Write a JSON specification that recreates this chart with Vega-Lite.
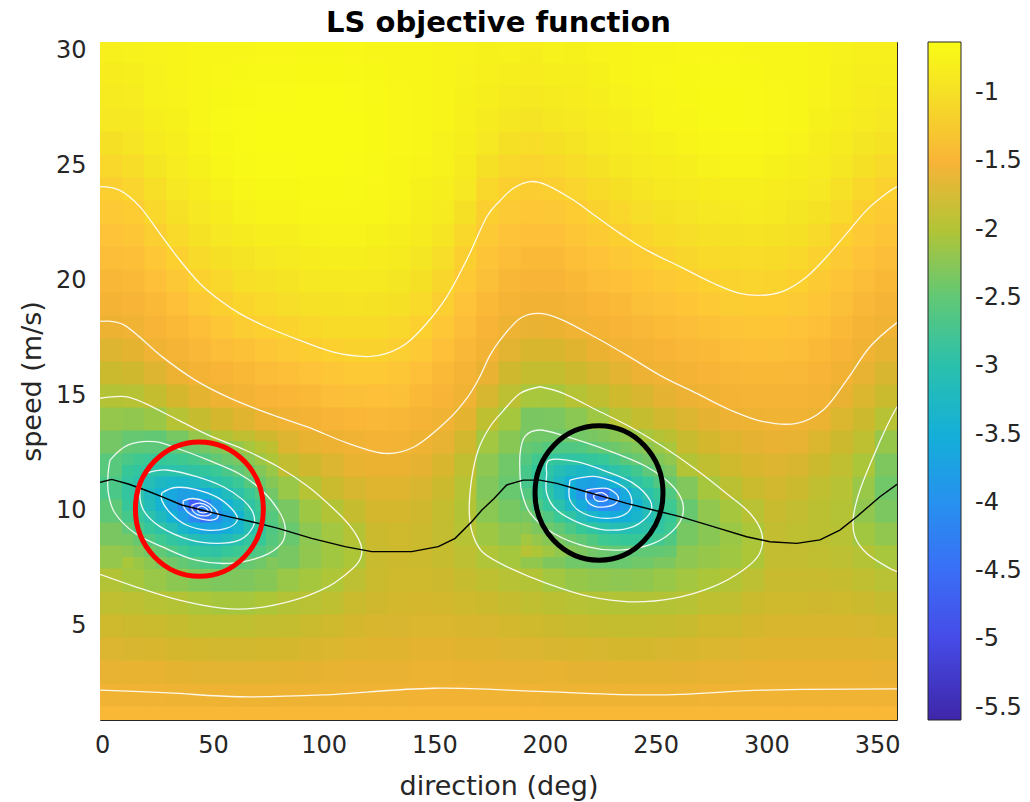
{
"$schema":"https://vega.github.io/schema/vega-lite/v6.json",
"width":797,"height":678,
"autosize":{"type":"none"},
"padding":{"left":100,"top":42,"right":133,"bottom":82},
"background":"white",
"config":{"font":"DejaVu Sans","view":{"stroke":"#262626","strokeWidth":1}},
"title":{"text":"LS objective function","fontSize":29,"fontWeight":"bold","color":"#000000","anchor":"middle","offset":10,"dy":33,"baseline":"alphabetic","font":"DejaVu Sans"},
"resolve":{"axis":{"x":"independent","y":"independent"}},
"layer":[
{
"data":{"values":[
{"d":-1,"s":0.5,"v":-1.45},{"d":-1,"s":1.5,"v":-1.58},{"d":-1,"s":2.5,"v":-1.67},{"d":-1,"s":3.5,"v":-1.75},{"d":-1,"s":4.5,"v":-1.84},{"d":-1,"s":5.5,"v":-1.92},{"d":-1,"s":6.5,"v":-2.0},{"d":-1,"s":7.5,"v":-2.18},{"d":-1,"s":8.5,"v":-2.34},{"d":-1,"s":9.5,"v":-2.51},{"d":-1,"s":10.5,"v":-2.63},{"d":-1,"s":11.5,"v":-2.55},{"d":-1,"s":12.5,"v":-2.37},{"d":-1,"s":13.5,"v":-2.18},{"d":-1,"s":14.5,"v":-1.99},{"d":-1,"s":15.5,"v":-1.86},{"d":-1,"s":16.5,"v":-1.74},{"d":-1,"s":17.5,"v":-1.62},{"d":-1,"s":18.5,"v":-1.54},{"d":-1,"s":19.5,"v":-1.47},{"d":-1,"s":20.5,"v":-1.4},{"d":-1,"s":21.5,"v":-1.33},{"d":-1,"s":22.5,"v":-1.27},{"d":-1,"s":23.5,"v":-1.2},{"d":-1,"s":24.5,"v":-1.1},{"d":-1,"s":25.5,"v":-1.0},{"d":-1,"s":26.5,"v":-0.9},{"d":-1,"s":27.5,"v":-0.86},{"d":-1,"s":28.5,"v":-0.82},{"d":-1,"s":29.5,"v":-0.78},
{"d":9,"s":0.5,"v":-1.45},{"d":9,"s":1.5,"v":-1.59},{"d":9,"s":2.5,"v":-1.68},{"d":9,"s":3.5,"v":-1.77},{"d":9,"s":4.5,"v":-1.86},{"d":9,"s":5.5,"v":-1.94},{"d":9,"s":6.5,"v":-2.07},{"d":9,"s":7.5,"v":-2.29},{"d":9,"s":8.5,"v":-2.5},{"d":9,"s":9.5,"v":-2.75},{"d":9,"s":10.5,"v":-2.9},{"d":9,"s":11.5,"v":-2.75},{"d":9,"s":12.5,"v":-2.46},{"d":9,"s":13.5,"v":-2.2},{"d":9,"s":14.5,"v":-1.97},{"d":9,"s":15.5,"v":-1.83},{"d":9,"s":16.5,"v":-1.7},{"d":9,"s":17.5,"v":-1.58},{"d":9,"s":18.5,"v":-1.51},{"d":9,"s":19.5,"v":-1.44},{"d":9,"s":20.5,"v":-1.37},{"d":9,"s":21.5,"v":-1.3},{"d":9,"s":22.5,"v":-1.23},{"d":9,"s":23.5,"v":-1.14},{"d":9,"s":24.5,"v":-1.04},{"d":9,"s":25.5,"v":-0.94},{"d":9,"s":26.5,"v":-0.88},{"d":9,"s":27.5,"v":-0.84},{"d":9,"s":28.5,"v":-0.8},{"d":9,"s":29.5,"v":-0.77},
{"d":19,"s":0.5,"v":-1.45},{"d":19,"s":1.5,"v":-1.59},{"d":19,"s":2.5,"v":-1.68},{"d":19,"s":3.5,"v":-1.78},{"d":19,"s":4.5,"v":-1.87},{"d":19,"s":5.5,"v":-1.97},{"d":19,"s":6.5,"v":-2.15},{"d":19,"s":7.5,"v":-2.38},{"d":19,"s":8.5,"v":-2.79},{"d":19,"s":9.5,"v":-3.2},{"d":19,"s":10.5,"v":-3.35},{"d":19,"s":11.5,"v":-2.88},{"d":19,"s":12.5,"v":-2.48},{"d":19,"s":13.5,"v":-2.14},{"d":19,"s":14.5,"v":-1.9},{"d":19,"s":15.5,"v":-1.74},{"d":19,"s":16.5,"v":-1.59},{"d":19,"s":17.5,"v":-1.51},{"d":19,"s":18.5,"v":-1.44},{"d":19,"s":19.5,"v":-1.36},{"d":19,"s":20.5,"v":-1.29},{"d":19,"s":21.5,"v":-1.21},{"d":19,"s":22.5,"v":-1.11},{"d":19,"s":23.5,"v":-1.01},{"d":19,"s":24.5,"v":-0.92},{"d":19,"s":25.5,"v":-0.85},{"d":19,"s":26.5,"v":-0.8},{"d":19,"s":27.5,"v":-0.77},{"d":19,"s":28.5,"v":-0.75},{"d":19,"s":29.5,"v":-0.74},
{"d":29,"s":0.5,"v":-1.45},{"d":29,"s":1.5,"v":-1.6},{"d":29,"s":2.5,"v":-1.7},{"d":29,"s":3.5,"v":-1.8},{"d":29,"s":4.5,"v":-1.89},{"d":29,"s":5.5,"v":-1.99},{"d":29,"s":6.5,"v":-2.23},{"d":29,"s":7.5,"v":-2.48},{"d":29,"s":8.5,"v":-3.13},{"d":29,"s":9.5,"v":-3.81},{"d":29,"s":10.5,"v":-3.43},{"d":29,"s":11.5,"v":-2.83},{"d":29,"s":12.5,"v":-2.36},{"d":29,"s":13.5,"v":-1.98},{"d":29,"s":14.5,"v":-1.8},{"d":29,"s":15.5,"v":-1.62},{"d":29,"s":16.5,"v":-1.53},{"d":29,"s":17.5,"v":-1.44},{"d":29,"s":18.5,"v":-1.36},{"d":29,"s":19.5,"v":-1.28},{"d":29,"s":20.5,"v":-1.19},{"d":29,"s":21.5,"v":-1.09},{"d":29,"s":22.5,"v":-0.99},{"d":29,"s":23.5,"v":-0.9},{"d":29,"s":24.5,"v":-0.84},{"d":29,"s":25.5,"v":-0.79},{"d":29,"s":26.5,"v":-0.76},{"d":29,"s":27.5,"v":-0.74},{"d":29,"s":28.5,"v":-0.73},{"d":29,"s":29.5,"v":-0.72},
{"d":39,"s":0.5,"v":-1.45},{"d":39,"s":1.5,"v":-1.6},{"d":39,"s":2.5,"v":-1.71},{"d":39,"s":3.5,"v":-1.81},{"d":39,"s":4.5,"v":-1.92},{"d":39,"s":5.5,"v":-2.04},{"d":39,"s":6.5,"v":-2.29},{"d":39,"s":7.5,"v":-2.8},{"d":39,"s":8.5,"v":-3.28},{"d":39,"s":9.5,"v":-4.5},{"d":39,"s":10.5,"v":-3.31},{"d":39,"s":11.5,"v":-2.66},{"d":39,"s":12.5,"v":-2.18},{"d":39,"s":13.5,"v":-1.89},{"d":39,"s":14.5,"v":-1.7},{"d":39,"s":15.5,"v":-1.55},{"d":39,"s":16.5,"v":-1.46},{"d":39,"s":17.5,"v":-1.37},{"d":39,"s":18.5,"v":-1.27},{"d":39,"s":19.5,"v":-1.18},{"d":39,"s":20.5,"v":-1.08},{"d":39,"s":21.5,"v":-0.98},{"d":39,"s":22.5,"v":-0.9},{"d":39,"s":23.5,"v":-0.82},{"d":39,"s":24.5,"v":-0.76},{"d":39,"s":25.5,"v":-0.72},{"d":39,"s":26.5,"v":-0.7},{"d":39,"s":27.5,"v":-0.69},{"d":39,"s":28.5,"v":-0.69},{"d":39,"s":29.5,"v":-0.7},
{"d":49,"s":0.5,"v":-1.45},{"d":49,"s":1.5,"v":-1.61},{"d":49,"s":2.5,"v":-1.71},{"d":49,"s":3.5,"v":-1.82},{"d":49,"s":4.5,"v":-1.92},{"d":49,"s":5.5,"v":-2.07},{"d":49,"s":6.5,"v":-2.32},{"d":49,"s":7.5,"v":-2.82},{"d":49,"s":8.5,"v":-3.35},{"d":49,"s":9.5,"v":-3.85},{"d":49,"s":10.5,"v":-3.0},{"d":49,"s":11.5,"v":-2.43},{"d":49,"s":12.5,"v":-2.0},{"d":49,"s":13.5,"v":-1.8},{"d":49,"s":14.5,"v":-1.6},{"d":49,"s":15.5,"v":-1.5},{"d":49,"s":16.5,"v":-1.4},{"d":49,"s":17.5,"v":-1.3},{"d":49,"s":18.5,"v":-1.2},{"d":49,"s":19.5,"v":-1.1},{"d":49,"s":20.5,"v":-1.0},{"d":49,"s":21.5,"v":-0.9},{"d":49,"s":22.5,"v":-0.82},{"d":49,"s":23.5,"v":-0.75},{"d":49,"s":24.5,"v":-0.7},{"d":49,"s":25.5,"v":-0.67},{"d":49,"s":26.5,"v":-0.66},{"d":49,"s":27.5,"v":-0.67},{"d":49,"s":28.5,"v":-0.68},{"d":49,"s":29.5,"v":-0.7},
{"d":59,"s":0.5,"v":-1.45},{"d":59,"s":1.5,"v":-1.61},{"d":59,"s":2.5,"v":-1.71},{"d":59,"s":3.5,"v":-1.82},{"d":59,"s":4.5,"v":-1.92},{"d":59,"s":5.5,"v":-2.07},{"d":59,"s":6.5,"v":-2.31},{"d":59,"s":7.5,"v":-2.57},{"d":59,"s":8.5,"v":-3.05},{"d":59,"s":9.5,"v":-3.25},{"d":59,"s":10.5,"v":-2.68},{"d":59,"s":11.5,"v":-2.25},{"d":59,"s":12.5,"v":-1.92},{"d":59,"s":13.5,"v":-1.72},{"d":59,"s":14.5,"v":-1.56},{"d":59,"s":15.5,"v":-1.45},{"d":59,"s":16.5,"v":-1.35},{"d":59,"s":17.5,"v":-1.24},{"d":59,"s":18.5,"v":-1.13},{"d":59,"s":19.5,"v":-1.02},{"d":59,"s":20.5,"v":-0.95},{"d":59,"s":21.5,"v":-0.85},{"d":59,"s":22.5,"v":-0.77},{"d":59,"s":23.5,"v":-0.7},{"d":59,"s":24.5,"v":-0.66},{"d":59,"s":25.5,"v":-0.64},{"d":59,"s":26.5,"v":-0.64},{"d":59,"s":27.5,"v":-0.65},{"d":59,"s":28.5,"v":-0.67},{"d":59,"s":29.5,"v":-0.69},
{"d":69,"s":0.5,"v":-1.45},{"d":69,"s":1.5,"v":-1.61},{"d":69,"s":2.5,"v":-1.71},{"d":69,"s":3.5,"v":-1.81},{"d":69,"s":4.5,"v":-1.91},{"d":69,"s":5.5,"v":-2.03},{"d":69,"s":6.5,"v":-2.26},{"d":69,"s":7.5,"v":-2.48},{"d":69,"s":8.5,"v":-2.72},{"d":69,"s":9.5,"v":-2.68},{"d":69,"s":10.5,"v":-2.37},{"d":69,"s":11.5,"v":-2.03},{"d":69,"s":12.5,"v":-1.83},{"d":69,"s":13.5,"v":-1.64},{"d":69,"s":14.5,"v":-1.51},{"d":69,"s":15.5,"v":-1.41},{"d":69,"s":16.5,"v":-1.3},{"d":69,"s":17.5,"v":-1.19},{"d":69,"s":18.5,"v":-1.09},{"d":69,"s":19.5,"v":-0.99},{"d":69,"s":20.5,"v":-0.9},{"d":69,"s":21.5,"v":-0.8},{"d":69,"s":22.5,"v":-0.73},{"d":69,"s":23.5,"v":-0.67},{"d":69,"s":24.5,"v":-0.64},{"d":69,"s":25.5,"v":-0.63},{"d":69,"s":26.5,"v":-0.63},{"d":69,"s":27.5,"v":-0.64},{"d":69,"s":28.5,"v":-0.66},{"d":69,"s":29.5,"v":-0.68},
{"d":79,"s":0.5,"v":-1.45},{"d":79,"s":1.5,"v":-1.6},{"d":79,"s":2.5,"v":-1.7},{"d":79,"s":3.5,"v":-1.8},{"d":79,"s":4.5,"v":-1.9},{"d":79,"s":5.5,"v":-1.99},{"d":79,"s":6.5,"v":-2.15},{"d":79,"s":7.5,"v":-2.35},{"d":79,"s":8.5,"v":-2.45},{"d":79,"s":9.5,"v":-2.35},{"d":79,"s":10.5,"v":-2.15},{"d":79,"s":11.5,"v":-1.91},{"d":79,"s":12.5,"v":-1.74},{"d":79,"s":13.5,"v":-1.58},{"d":79,"s":14.5,"v":-1.48},{"d":79,"s":15.5,"v":-1.37},{"d":79,"s":16.5,"v":-1.26},{"d":79,"s":17.5,"v":-1.15},{"d":79,"s":18.5,"v":-1.03},{"d":79,"s":19.5,"v":-0.95},{"d":79,"s":20.5,"v":-0.87},{"d":79,"s":21.5,"v":-0.79},{"d":79,"s":22.5,"v":-0.72},{"d":79,"s":23.5,"v":-0.67},{"d":79,"s":24.5,"v":-0.64},{"d":79,"s":25.5,"v":-0.63},{"d":79,"s":26.5,"v":-0.63},{"d":79,"s":27.5,"v":-0.64},{"d":79,"s":28.5,"v":-0.66},{"d":79,"s":29.5,"v":-0.68},
{"d":89,"s":0.5,"v":-1.45},{"d":89,"s":1.5,"v":-1.6},{"d":89,"s":2.5,"v":-1.69},{"d":89,"s":3.5,"v":-1.78},{"d":89,"s":4.5,"v":-1.87},{"d":89,"s":5.5,"v":-1.96},{"d":89,"s":6.5,"v":-2.08},{"d":89,"s":7.5,"v":-2.2},{"d":89,"s":8.5,"v":-2.22},{"d":89,"s":9.5,"v":-2.12},{"d":89,"s":10.5,"v":-1.98},{"d":89,"s":11.5,"v":-1.83},{"d":89,"s":12.5,"v":-1.68},{"d":89,"s":13.5,"v":-1.55},{"d":89,"s":14.5,"v":-1.44},{"d":89,"s":15.5,"v":-1.33},{"d":89,"s":16.5,"v":-1.22},{"d":89,"s":17.5,"v":-1.1},{"d":89,"s":18.5,"v":-0.99},{"d":89,"s":19.5,"v":-0.9},{"d":89,"s":20.5,"v":-0.82},{"d":89,"s":21.5,"v":-0.75},{"d":89,"s":22.5,"v":-0.69},{"d":89,"s":23.5,"v":-0.65},{"d":89,"s":24.5,"v":-0.63},{"d":89,"s":25.5,"v":-0.62},{"d":89,"s":26.5,"v":-0.62},{"d":89,"s":27.5,"v":-0.63},{"d":89,"s":28.5,"v":-0.65},{"d":89,"s":29.5,"v":-0.67},
{"d":99,"s":0.5,"v":-1.45},{"d":99,"s":1.5,"v":-1.6},{"d":99,"s":2.5,"v":-1.68},{"d":99,"s":3.5,"v":-1.76},{"d":99,"s":4.5,"v":-1.84},{"d":99,"s":5.5,"v":-1.93},{"d":99,"s":6.5,"v":-2.02},{"d":99,"s":7.5,"v":-2.1},{"d":99,"s":8.5,"v":-2.09},{"d":99,"s":9.5,"v":-2.0},{"d":99,"s":10.5,"v":-1.87},{"d":99,"s":11.5,"v":-1.75},{"d":99,"s":12.5,"v":-1.62},{"d":99,"s":13.5,"v":-1.51},{"d":99,"s":14.5,"v":-1.4},{"d":99,"s":15.5,"v":-1.3},{"d":99,"s":16.5,"v":-1.19},{"d":99,"s":17.5,"v":-1.07},{"d":99,"s":18.5,"v":-0.97},{"d":99,"s":19.5,"v":-0.89},{"d":99,"s":20.5,"v":-0.81},{"d":99,"s":21.5,"v":-0.74},{"d":99,"s":22.5,"v":-0.69},{"d":99,"s":23.5,"v":-0.65},{"d":99,"s":24.5,"v":-0.63},{"d":99,"s":25.5,"v":-0.62},{"d":99,"s":26.5,"v":-0.62},{"d":99,"s":27.5,"v":-0.63},{"d":99,"s":28.5,"v":-0.65},{"d":99,"s":29.5,"v":-0.67},
{"d":109,"s":0.5,"v":-1.45},{"d":109,"s":1.5,"v":-1.59},{"d":109,"s":2.5,"v":-1.66},{"d":109,"s":3.5,"v":-1.73},{"d":109,"s":4.5,"v":-1.8},{"d":109,"s":5.5,"v":-1.87},{"d":109,"s":6.5,"v":-1.94},{"d":109,"s":7.5,"v":-2.03},{"d":109,"s":8.5,"v":-1.99},{"d":109,"s":9.5,"v":-1.89},{"d":109,"s":10.5,"v":-1.79},{"d":109,"s":11.5,"v":-1.68},{"d":109,"s":12.5,"v":-1.58},{"d":109,"s":13.5,"v":-1.48},{"d":109,"s":14.5,"v":-1.38},{"d":109,"s":15.5,"v":-1.27},{"d":109,"s":16.5,"v":-1.17},{"d":109,"s":17.5,"v":-1.06},{"d":109,"s":18.5,"v":-0.96},{"d":109,"s":19.5,"v":-0.88},{"d":109,"s":20.5,"v":-0.8},{"d":109,"s":21.5,"v":-0.74},{"d":109,"s":22.5,"v":-0.69},{"d":109,"s":23.5,"v":-0.66},{"d":109,"s":24.5,"v":-0.64},{"d":109,"s":25.5,"v":-0.63},{"d":109,"s":26.5,"v":-0.63},{"d":109,"s":27.5,"v":-0.64},{"d":109,"s":28.5,"v":-0.66},{"d":109,"s":29.5,"v":-0.68},
{"d":119,"s":0.5,"v":-1.45},{"d":119,"s":1.5,"v":-1.59},{"d":119,"s":2.5,"v":-1.66},{"d":119,"s":3.5,"v":-1.72},{"d":119,"s":4.5,"v":-1.78},{"d":119,"s":5.5,"v":-1.83},{"d":119,"s":6.5,"v":-1.87},{"d":119,"s":7.5,"v":-1.88},{"d":119,"s":8.5,"v":-1.86},{"d":119,"s":9.5,"v":-1.8},{"d":119,"s":10.5,"v":-1.73},{"d":119,"s":11.5,"v":-1.65},{"d":119,"s":12.5,"v":-1.55},{"d":119,"s":13.5,"v":-1.46},{"d":119,"s":14.5,"v":-1.36},{"d":119,"s":15.5,"v":-1.27},{"d":119,"s":16.5,"v":-1.17},{"d":119,"s":17.5,"v":-1.06},{"d":119,"s":18.5,"v":-0.97},{"d":119,"s":19.5,"v":-0.89},{"d":119,"s":20.5,"v":-0.82},{"d":119,"s":21.5,"v":-0.76},{"d":119,"s":22.5,"v":-0.71},{"d":119,"s":23.5,"v":-0.68},{"d":119,"s":24.5,"v":-0.66},{"d":119,"s":25.5,"v":-0.65},{"d":119,"s":26.5,"v":-0.65},{"d":119,"s":27.5,"v":-0.66},{"d":119,"s":28.5,"v":-0.67},{"d":119,"s":29.5,"v":-0.69},
{"d":129,"s":0.5,"v":-1.45},{"d":129,"s":1.5,"v":-1.59},{"d":129,"s":2.5,"v":-1.66},{"d":129,"s":3.5,"v":-1.72},{"d":129,"s":4.5,"v":-1.77},{"d":129,"s":5.5,"v":-1.81},{"d":129,"s":6.5,"v":-1.84},{"d":129,"s":7.5,"v":-1.85},{"d":129,"s":8.5,"v":-1.84},{"d":129,"s":9.5,"v":-1.8},{"d":129,"s":10.5,"v":-1.73},{"d":129,"s":11.5,"v":-1.65},{"d":129,"s":12.5,"v":-1.56},{"d":129,"s":13.5,"v":-1.47},{"d":129,"s":14.5,"v":-1.38},{"d":129,"s":15.5,"v":-1.3},{"d":129,"s":16.5,"v":-1.21},{"d":129,"s":17.5,"v":-1.1},{"d":129,"s":18.5,"v":-1.0},{"d":129,"s":19.5,"v":-0.92},{"d":129,"s":20.5,"v":-0.85},{"d":129,"s":21.5,"v":-0.79},{"d":129,"s":22.5,"v":-0.74},{"d":129,"s":23.5,"v":-0.71},{"d":129,"s":24.5,"v":-0.69},{"d":129,"s":25.5,"v":-0.68},{"d":129,"s":26.5,"v":-0.68},{"d":129,"s":27.5,"v":-0.68},{"d":129,"s":28.5,"v":-0.69},{"d":129,"s":29.5,"v":-0.7},
{"d":139,"s":0.5,"v":-1.45},{"d":139,"s":1.5,"v":-1.57},{"d":139,"s":2.5,"v":-1.64},{"d":139,"s":3.5,"v":-1.7},{"d":139,"s":4.5,"v":-1.76},{"d":139,"s":5.5,"v":-1.8},{"d":139,"s":6.5,"v":-1.84},{"d":139,"s":7.5,"v":-1.86},{"d":139,"s":8.5,"v":-1.86},{"d":139,"s":9.5,"v":-1.83},{"d":139,"s":10.5,"v":-1.77},{"d":139,"s":11.5,"v":-1.69},{"d":139,"s":12.5,"v":-1.6},{"d":139,"s":13.5,"v":-1.52},{"d":139,"s":14.5,"v":-1.44},{"d":139,"s":15.5,"v":-1.36},{"d":139,"s":16.5,"v":-1.27},{"d":139,"s":17.5,"v":-1.19},{"d":139,"s":18.5,"v":-1.09},{"d":139,"s":19.5,"v":-1.0},{"d":139,"s":20.5,"v":-0.92},{"d":139,"s":21.5,"v":-0.85},{"d":139,"s":22.5,"v":-0.8},{"d":139,"s":23.5,"v":-0.76},{"d":139,"s":24.5,"v":-0.73},{"d":139,"s":25.5,"v":-0.71},{"d":139,"s":26.5,"v":-0.7},{"d":139,"s":27.5,"v":-0.7},{"d":139,"s":28.5,"v":-0.7},{"d":139,"s":29.5,"v":-0.71},
{"d":149,"s":0.5,"v":-1.45},{"d":149,"s":1.5,"v":-1.57},{"d":149,"s":2.5,"v":-1.64},{"d":149,"s":3.5,"v":-1.7},{"d":149,"s":4.5,"v":-1.76},{"d":149,"s":5.5,"v":-1.81},{"d":149,"s":6.5,"v":-1.85},{"d":149,"s":7.5,"v":-1.89},{"d":149,"s":8.5,"v":-1.91},{"d":149,"s":9.5,"v":-1.9},{"d":149,"s":10.5,"v":-1.86},{"d":149,"s":11.5,"v":-1.78},{"d":149,"s":12.5,"v":-1.67},{"d":149,"s":13.5,"v":-1.58},{"d":149,"s":14.5,"v":-1.51},{"d":149,"s":15.5,"v":-1.44},{"d":149,"s":16.5,"v":-1.36},{"d":149,"s":17.5,"v":-1.29},{"d":149,"s":18.5,"v":-1.21},{"d":149,"s":19.5,"v":-1.12},{"d":149,"s":20.5,"v":-1.03},{"d":149,"s":21.5,"v":-0.93},{"d":149,"s":22.5,"v":-0.86},{"d":149,"s":23.5,"v":-0.81},{"d":149,"s":24.5,"v":-0.77},{"d":149,"s":25.5,"v":-0.75},{"d":149,"s":26.5,"v":-0.73},{"d":149,"s":27.5,"v":-0.72},{"d":149,"s":28.5,"v":-0.72},{"d":149,"s":29.5,"v":-0.72},
{"d":159,"s":0.5,"v":-1.45},{"d":159,"s":1.5,"v":-1.57},{"d":159,"s":2.5,"v":-1.65},{"d":159,"s":3.5,"v":-1.72},{"d":159,"s":4.5,"v":-1.78},{"d":159,"s":5.5,"v":-1.84},{"d":159,"s":6.5,"v":-1.89},{"d":159,"s":7.5,"v":-1.94},{"d":159,"s":8.5,"v":-1.98},{"d":159,"s":9.5,"v":-2.0},{"d":159,"s":10.5,"v":-1.98},{"d":159,"s":11.5,"v":-1.92},{"d":159,"s":12.5,"v":-1.82},{"d":159,"s":13.5,"v":-1.7},{"d":159,"s":14.5,"v":-1.59},{"d":159,"s":15.5,"v":-1.53},{"d":159,"s":16.5,"v":-1.46},{"d":159,"s":17.5,"v":-1.4},{"d":159,"s":18.5,"v":-1.33},{"d":159,"s":19.5,"v":-1.27},{"d":159,"s":20.5,"v":-1.2},{"d":159,"s":21.5,"v":-1.1},{"d":159,"s":22.5,"v":-1.0},{"d":159,"s":23.5,"v":-0.9},{"d":159,"s":24.5,"v":-0.85},{"d":159,"s":25.5,"v":-0.81},{"d":159,"s":26.5,"v":-0.78},{"d":159,"s":27.5,"v":-0.76},{"d":159,"s":28.5,"v":-0.75},{"d":159,"s":29.5,"v":-0.74},
{"d":169,"s":0.5,"v":-1.45},{"d":169,"s":1.5,"v":-1.58},{"d":169,"s":2.5,"v":-1.66},{"d":169,"s":3.5,"v":-1.72},{"d":169,"s":4.5,"v":-1.79},{"d":169,"s":5.5,"v":-1.86},{"d":169,"s":6.5,"v":-1.93},{"d":169,"s":7.5,"v":-2.01},{"d":169,"s":8.5,"v":-2.12},{"d":169,"s":9.5,"v":-2.24},{"d":169,"s":10.5,"v":-2.3},{"d":169,"s":11.5,"v":-2.22},{"d":169,"s":12.5,"v":-2.09},{"d":169,"s":13.5,"v":-1.93},{"d":169,"s":14.5,"v":-1.79},{"d":169,"s":15.5,"v":-1.66},{"d":169,"s":16.5,"v":-1.56},{"d":169,"s":17.5,"v":-1.5},{"d":169,"s":18.5,"v":-1.44},{"d":169,"s":19.5,"v":-1.38},{"d":169,"s":20.5,"v":-1.32},{"d":169,"s":21.5,"v":-1.26},{"d":169,"s":22.5,"v":-1.2},{"d":169,"s":23.5,"v":-1.1},{"d":169,"s":24.5,"v":-1.0},{"d":169,"s":25.5,"v":-0.9},{"d":169,"s":26.5,"v":-0.85},{"d":169,"s":27.5,"v":-0.81},{"d":169,"s":28.5,"v":-0.78},{"d":169,"s":29.5,"v":-0.76},
{"d":179,"s":0.5,"v":-1.45},{"d":179,"s":1.5,"v":-1.58},{"d":179,"s":2.5,"v":-1.66},{"d":179,"s":3.5,"v":-1.74},{"d":179,"s":4.5,"v":-1.81},{"d":179,"s":5.5,"v":-1.89},{"d":179,"s":6.5,"v":-1.97},{"d":179,"s":7.5,"v":-2.08},{"d":179,"s":8.5,"v":-2.22},{"d":179,"s":9.5,"v":-2.36},{"d":179,"s":10.5,"v":-2.45},{"d":179,"s":11.5,"v":-2.4},{"d":179,"s":12.5,"v":-2.25},{"d":179,"s":13.5,"v":-2.08},{"d":179,"s":14.5,"v":-1.94},{"d":179,"s":15.5,"v":-1.83},{"d":179,"s":16.5,"v":-1.71},{"d":179,"s":17.5,"v":-1.6},{"d":179,"s":18.5,"v":-1.53},{"d":179,"s":19.5,"v":-1.47},{"d":179,"s":20.5,"v":-1.4},{"d":179,"s":21.5,"v":-1.33},{"d":179,"s":22.5,"v":-1.26},{"d":179,"s":23.5,"v":-1.2},{"d":179,"s":24.5,"v":-1.1},{"d":179,"s":25.5,"v":-1.0},{"d":179,"s":26.5,"v":-0.91},{"d":179,"s":27.5,"v":-0.85},{"d":179,"s":28.5,"v":-0.8},{"d":179,"s":29.5,"v":-0.77},
{"d":189,"s":0.5,"v":-1.45},{"d":189,"s":1.5,"v":-1.58},{"d":189,"s":2.5,"v":-1.67},{"d":189,"s":3.5,"v":-1.75},{"d":189,"s":4.5,"v":-1.84},{"d":189,"s":5.5,"v":-1.92},{"d":189,"s":6.5,"v":-2.0},{"d":189,"s":7.5,"v":-2.19},{"d":189,"s":8.5,"v":-2.38},{"d":189,"s":9.5,"v":-2.58},{"d":189,"s":10.5,"v":-2.8},{"d":189,"s":11.5,"v":-2.8},{"d":189,"s":12.5,"v":-2.62},{"d":189,"s":13.5,"v":-2.34},{"d":189,"s":14.5,"v":-2.06},{"d":189,"s":15.5,"v":-1.9},{"d":189,"s":16.5,"v":-1.78},{"d":189,"s":17.5,"v":-1.66},{"d":189,"s":18.5,"v":-1.57},{"d":189,"s":19.5,"v":-1.5},{"d":189,"s":20.5,"v":-1.43},{"d":189,"s":21.5,"v":-1.36},{"d":189,"s":22.5,"v":-1.29},{"d":189,"s":23.5,"v":-1.22},{"d":189,"s":24.5,"v":-1.14},{"d":189,"s":25.5,"v":-1.04},{"d":189,"s":26.5,"v":-0.95},{"d":189,"s":27.5,"v":-0.88},{"d":189,"s":28.5,"v":-0.83},{"d":189,"s":29.5,"v":-0.8},
{"d":199,"s":0.5,"v":-1.45},{"d":199,"s":1.5,"v":-1.6},{"d":199,"s":2.5,"v":-1.68},{"d":199,"s":3.5,"v":-1.77},{"d":199,"s":4.5,"v":-1.86},{"d":199,"s":5.5,"v":-1.95},{"d":199,"s":6.5,"v":-2.09},{"d":199,"s":7.5,"v":-2.31},{"d":199,"s":8.5,"v":-2.57},{"d":199,"s":9.5,"v":-3.0},{"d":199,"s":10.5,"v":-3.25},{"d":199,"s":11.5,"v":-3.05},{"d":199,"s":12.5,"v":-2.65},{"d":199,"s":13.5,"v":-2.33},{"d":199,"s":14.5,"v":-2.07},{"d":199,"s":15.5,"v":-1.9},{"d":199,"s":16.5,"v":-1.78},{"d":199,"s":17.5,"v":-1.65},{"d":199,"s":18.5,"v":-1.57},{"d":199,"s":19.5,"v":-1.5},{"d":199,"s":20.5,"v":-1.43},{"d":199,"s":21.5,"v":-1.36},{"d":199,"s":22.5,"v":-1.28},{"d":199,"s":23.5,"v":-1.2},{"d":199,"s":24.5,"v":-1.1},{"d":199,"s":25.5,"v":-1.0},{"d":199,"s":26.5,"v":-0.91},{"d":199,"s":27.5,"v":-0.85},{"d":199,"s":28.5,"v":-0.8},{"d":199,"s":29.5,"v":-0.77},
{"d":209,"s":0.5,"v":-1.45},{"d":209,"s":1.5,"v":-1.6},{"d":209,"s":2.5,"v":-1.69},{"d":209,"s":3.5,"v":-1.78},{"d":209,"s":4.5,"v":-1.88},{"d":209,"s":5.5,"v":-1.97},{"d":209,"s":6.5,"v":-2.16},{"d":209,"s":7.5,"v":-2.4},{"d":209,"s":8.5,"v":-2.78},{"d":209,"s":9.5,"v":-3.52},{"d":209,"s":10.5,"v":-3.8},{"d":209,"s":11.5,"v":-3.07},{"d":209,"s":12.5,"v":-2.53},{"d":209,"s":13.5,"v":-2.24},{"d":209,"s":14.5,"v":-1.98},{"d":209,"s":15.5,"v":-1.85},{"d":209,"s":16.5,"v":-1.72},{"d":209,"s":17.5,"v":-1.59},{"d":209,"s":18.5,"v":-1.52},{"d":209,"s":19.5,"v":-1.45},{"d":209,"s":20.5,"v":-1.37},{"d":209,"s":21.5,"v":-1.3},{"d":209,"s":22.5,"v":-1.23},{"d":209,"s":23.5,"v":-1.14},{"d":209,"s":24.5,"v":-1.04},{"d":209,"s":25.5,"v":-0.95},{"d":209,"s":26.5,"v":-0.88},{"d":209,"s":27.5,"v":-0.83},{"d":209,"s":28.5,"v":-0.79},{"d":209,"s":29.5,"v":-0.76},
{"d":219,"s":0.5,"v":-1.45},{"d":219,"s":1.5,"v":-1.6},{"d":219,"s":2.5,"v":-1.69},{"d":219,"s":3.5,"v":-1.79},{"d":219,"s":4.5,"v":-1.89},{"d":219,"s":5.5,"v":-1.99},{"d":219,"s":6.5,"v":-2.2},{"d":219,"s":7.5,"v":-2.43},{"d":219,"s":8.5,"v":-2.97},{"d":219,"s":9.5,"v":-4.0},{"d":219,"s":10.5,"v":-4.1},{"d":219,"s":11.5,"v":-2.87},{"d":219,"s":12.5,"v":-2.41},{"d":219,"s":13.5,"v":-2.12},{"d":219,"s":14.5,"v":-1.92},{"d":219,"s":15.5,"v":-1.79},{"d":219,"s":16.5,"v":-1.65},{"d":219,"s":17.5,"v":-1.55},{"d":219,"s":18.5,"v":-1.48},{"d":219,"s":19.5,"v":-1.4},{"d":219,"s":20.5,"v":-1.33},{"d":219,"s":21.5,"v":-1.25},{"d":219,"s":22.5,"v":-1.17},{"d":219,"s":23.5,"v":-1.07},{"d":219,"s":24.5,"v":-0.97},{"d":219,"s":25.5,"v":-0.89},{"d":219,"s":26.5,"v":-0.83},{"d":219,"s":27.5,"v":-0.79},{"d":219,"s":28.5,"v":-0.76},{"d":219,"s":29.5,"v":-0.74},
{"d":229,"s":0.5,"v":-1.45},{"d":229,"s":1.5,"v":-1.6},{"d":229,"s":2.5,"v":-1.7},{"d":229,"s":3.5,"v":-1.8},{"d":229,"s":4.5,"v":-1.9},{"d":229,"s":5.5,"v":-2.0},{"d":229,"s":6.5,"v":-2.22},{"d":229,"s":7.5,"v":-2.44},{"d":229,"s":8.5,"v":-2.89},{"d":229,"s":9.5,"v":-3.72},{"d":229,"s":10.5,"v":-3.55},{"d":229,"s":11.5,"v":-2.66},{"d":229,"s":12.5,"v":-2.27},{"d":229,"s":13.5,"v":-1.97},{"d":229,"s":14.5,"v":-1.84},{"d":229,"s":15.5,"v":-1.71},{"d":229,"s":16.5,"v":-1.59},{"d":229,"s":17.5,"v":-1.51},{"d":229,"s":18.5,"v":-1.43},{"d":229,"s":19.5,"v":-1.36},{"d":229,"s":20.5,"v":-1.28},{"d":229,"s":21.5,"v":-1.2},{"d":229,"s":22.5,"v":-1.1},{"d":229,"s":23.5,"v":-1.0},{"d":229,"s":24.5,"v":-0.91},{"d":229,"s":25.5,"v":-0.84},{"d":229,"s":26.5,"v":-0.79},{"d":229,"s":27.5,"v":-0.75},{"d":229,"s":28.5,"v":-0.73},{"d":229,"s":29.5,"v":-0.72},
{"d":239,"s":0.5,"v":-1.45},{"d":239,"s":1.5,"v":-1.6},{"d":239,"s":2.5,"v":-1.7},{"d":239,"s":3.5,"v":-1.8},{"d":239,"s":4.5,"v":-1.9},{"d":239,"s":5.5,"v":-2.0},{"d":239,"s":6.5,"v":-2.2},{"d":239,"s":7.5,"v":-2.4},{"d":239,"s":8.5,"v":-2.73},{"d":239,"s":9.5,"v":-3.27},{"d":239,"s":10.5,"v":-2.88},{"d":239,"s":11.5,"v":-2.46},{"d":239,"s":12.5,"v":-2.09},{"d":239,"s":13.5,"v":-1.9},{"d":239,"s":14.5,"v":-1.77},{"d":239,"s":15.5,"v":-1.63},{"d":239,"s":16.5,"v":-1.54},{"d":239,"s":17.5,"v":-1.46},{"d":239,"s":18.5,"v":-1.38},{"d":239,"s":19.5,"v":-1.31},{"d":239,"s":20.5,"v":-1.23},{"d":239,"s":21.5,"v":-1.13},{"d":239,"s":22.5,"v":-1.03},{"d":239,"s":23.5,"v":-0.93},{"d":239,"s":24.5,"v":-0.86},{"d":239,"s":25.5,"v":-0.8},{"d":239,"s":26.5,"v":-0.75},{"d":239,"s":27.5,"v":-0.72},{"d":239,"s":28.5,"v":-0.7},{"d":239,"s":29.5,"v":-0.7},
{"d":249,"s":0.5,"v":-1.45},{"d":249,"s":1.5,"v":-1.6},{"d":249,"s":2.5,"v":-1.7},{"d":249,"s":3.5,"v":-1.79},{"d":249,"s":4.5,"v":-1.89},{"d":249,"s":5.5,"v":-1.99},{"d":249,"s":6.5,"v":-2.15},{"d":249,"s":7.5,"v":-2.33},{"d":249,"s":8.5,"v":-2.5},{"d":249,"s":9.5,"v":-2.78},{"d":249,"s":10.5,"v":-2.6},{"d":249,"s":11.5,"v":-2.23},{"d":249,"s":12.5,"v":-1.95},{"d":249,"s":13.5,"v":-1.82},{"d":249,"s":14.5,"v":-1.69},{"d":249,"s":15.5,"v":-1.58},{"d":249,"s":16.5,"v":-1.5},{"d":249,"s":17.5,"v":-1.42},{"d":249,"s":18.5,"v":-1.34},{"d":249,"s":19.5,"v":-1.27},{"d":249,"s":20.5,"v":-1.18},{"d":249,"s":21.5,"v":-1.07},{"d":249,"s":22.5,"v":-0.98},{"d":249,"s":23.5,"v":-0.89},{"d":249,"s":24.5,"v":-0.82},{"d":249,"s":25.5,"v":-0.76},{"d":249,"s":26.5,"v":-0.71},{"d":249,"s":27.5,"v":-0.69},{"d":249,"s":28.5,"v":-0.68},{"d":249,"s":29.5,"v":-0.69},
{"d":259,"s":0.5,"v":-1.45},{"d":259,"s":1.5,"v":-1.6},{"d":259,"s":2.5,"v":-1.69},{"d":259,"s":3.5,"v":-1.78},{"d":259,"s":4.5,"v":-1.88},{"d":259,"s":5.5,"v":-1.97},{"d":259,"s":6.5,"v":-2.09},{"d":259,"s":7.5,"v":-2.22},{"d":259,"s":8.5,"v":-2.36},{"d":259,"s":9.5,"v":-2.45},{"d":259,"s":10.5,"v":-2.3},{"d":259,"s":11.5,"v":-2.0},{"d":259,"s":12.5,"v":-1.88},{"d":259,"s":13.5,"v":-1.75},{"d":259,"s":14.5,"v":-1.63},{"d":259,"s":15.5,"v":-1.54},{"d":259,"s":16.5,"v":-1.46},{"d":259,"s":17.5,"v":-1.39},{"d":259,"s":18.5,"v":-1.31},{"d":259,"s":19.5,"v":-1.23},{"d":259,"s":20.5,"v":-1.12},{"d":259,"s":21.5,"v":-1.03},{"d":259,"s":22.5,"v":-0.94},{"d":259,"s":23.5,"v":-0.86},{"d":259,"s":24.5,"v":-0.79},{"d":259,"s":25.5,"v":-0.73},{"d":259,"s":26.5,"v":-0.69},{"d":259,"s":27.5,"v":-0.67},{"d":259,"s":28.5,"v":-0.67},{"d":259,"s":29.5,"v":-0.68},
{"d":269,"s":0.5,"v":-1.45},{"d":269,"s":1.5,"v":-1.59},{"d":269,"s":2.5,"v":-1.67},{"d":269,"s":3.5,"v":-1.76},{"d":269,"s":4.5,"v":-1.84},{"d":269,"s":5.5,"v":-1.93},{"d":269,"s":6.5,"v":-2.04},{"d":269,"s":7.5,"v":-2.17},{"d":269,"s":8.5,"v":-2.25},{"d":269,"s":9.5,"v":-2.2},{"d":269,"s":10.5,"v":-2.07},{"d":269,"s":11.5,"v":-1.92},{"d":269,"s":12.5,"v":-1.8},{"d":269,"s":13.5,"v":-1.69},{"d":269,"s":14.5,"v":-1.58},{"d":269,"s":15.5,"v":-1.5},{"d":269,"s":16.5,"v":-1.43},{"d":269,"s":17.5,"v":-1.35},{"d":269,"s":18.5,"v":-1.27},{"d":269,"s":19.5,"v":-1.19},{"d":269,"s":20.5,"v":-1.09},{"d":269,"s":21.5,"v":-0.99},{"d":269,"s":22.5,"v":-0.9},{"d":269,"s":23.5,"v":-0.82},{"d":269,"s":24.5,"v":-0.75},{"d":269,"s":25.5,"v":-0.69},{"d":269,"s":26.5,"v":-0.66},{"d":269,"s":27.5,"v":-0.65},{"d":269,"s":28.5,"v":-0.66},{"d":269,"s":29.5,"v":-0.68},
{"d":279,"s":0.5,"v":-1.45},{"d":279,"s":1.5,"v":-1.59},{"d":279,"s":2.5,"v":-1.67},{"d":279,"s":3.5,"v":-1.75},{"d":279,"s":4.5,"v":-1.84},{"d":279,"s":5.5,"v":-1.92},{"d":279,"s":6.5,"v":-2.0},{"d":279,"s":7.5,"v":-2.11},{"d":279,"s":8.5,"v":-2.14},{"d":279,"s":9.5,"v":-2.07},{"d":279,"s":10.5,"v":-1.95},{"d":279,"s":11.5,"v":-1.84},{"d":279,"s":12.5,"v":-1.73},{"d":279,"s":13.5,"v":-1.63},{"d":279,"s":14.5,"v":-1.55},{"d":279,"s":15.5,"v":-1.47},{"d":279,"s":16.5,"v":-1.39},{"d":279,"s":17.5,"v":-1.32},{"d":279,"s":18.5,"v":-1.24},{"d":279,"s":19.5,"v":-1.16},{"d":279,"s":20.5,"v":-1.06},{"d":279,"s":21.5,"v":-0.97},{"d":279,"s":22.5,"v":-0.88},{"d":279,"s":23.5,"v":-0.8},{"d":279,"s":24.5,"v":-0.73},{"d":279,"s":25.5,"v":-0.68},{"d":279,"s":26.5,"v":-0.65},{"d":279,"s":27.5,"v":-0.65},{"d":279,"s":28.5,"v":-0.66},{"d":279,"s":29.5,"v":-0.68},
{"d":289,"s":0.5,"v":-1.45},{"d":289,"s":1.5,"v":-1.59},{"d":289,"s":2.5,"v":-1.66},{"d":289,"s":3.5,"v":-1.73},{"d":289,"s":4.5,"v":-1.8},{"d":289,"s":5.5,"v":-1.87},{"d":289,"s":6.5,"v":-1.94},{"d":289,"s":7.5,"v":-2.03},{"d":289,"s":8.5,"v":-2.04},{"d":289,"s":9.5,"v":-1.96},{"d":289,"s":10.5,"v":-1.87},{"d":289,"s":11.5,"v":-1.78},{"d":289,"s":12.5,"v":-1.69},{"d":289,"s":13.5,"v":-1.6},{"d":289,"s":14.5,"v":-1.52},{"d":289,"s":15.5,"v":-1.45},{"d":289,"s":16.5,"v":-1.37},{"d":289,"s":17.5,"v":-1.3},{"d":289,"s":18.5,"v":-1.23},{"d":289,"s":19.5,"v":-1.14},{"d":289,"s":20.5,"v":-1.05},{"d":289,"s":21.5,"v":-0.96},{"d":289,"s":22.5,"v":-0.87},{"d":289,"s":23.5,"v":-0.79},{"d":289,"s":24.5,"v":-0.73},{"d":289,"s":25.5,"v":-0.68},{"d":289,"s":26.5,"v":-0.66},{"d":289,"s":27.5,"v":-0.66},{"d":289,"s":28.5,"v":-0.67},{"d":289,"s":29.5,"v":-0.69},
{"d":299,"s":0.5,"v":-1.45},{"d":299,"s":1.5,"v":-1.58},{"d":299,"s":2.5,"v":-1.65},{"d":299,"s":3.5,"v":-1.72},{"d":299,"s":4.5,"v":-1.78},{"d":299,"s":5.5,"v":-1.84},{"d":299,"s":6.5,"v":-1.88},{"d":299,"s":7.5,"v":-1.91},{"d":299,"s":8.5,"v":-1.91},{"d":299,"s":9.5,"v":-1.88},{"d":299,"s":10.5,"v":-1.82},{"d":299,"s":11.5,"v":-1.74},{"d":299,"s":12.5,"v":-1.66},{"d":299,"s":13.5,"v":-1.59},{"d":299,"s":14.5,"v":-1.52},{"d":299,"s":15.5,"v":-1.45},{"d":299,"s":16.5,"v":-1.38},{"d":299,"s":17.5,"v":-1.31},{"d":299,"s":18.5,"v":-1.23},{"d":299,"s":19.5,"v":-1.15},{"d":299,"s":20.5,"v":-1.06},{"d":299,"s":21.5,"v":-0.97},{"d":299,"s":22.5,"v":-0.89},{"d":299,"s":23.5,"v":-0.82},{"d":299,"s":24.5,"v":-0.76},{"d":299,"s":25.5,"v":-0.71},{"d":299,"s":26.5,"v":-0.68},{"d":299,"s":27.5,"v":-0.68},{"d":299,"s":28.5,"v":-0.69},{"d":299,"s":29.5,"v":-0.7},
{"d":309,"s":0.5,"v":-1.45},{"d":309,"s":1.5,"v":-1.58},{"d":309,"s":2.5,"v":-1.65},{"d":309,"s":3.5,"v":-1.72},{"d":309,"s":4.5,"v":-1.78},{"d":309,"s":5.5,"v":-1.84},{"d":309,"s":6.5,"v":-1.88},{"d":309,"s":7.5,"v":-1.91},{"d":309,"s":8.5,"v":-1.93},{"d":309,"s":9.5,"v":-1.91},{"d":309,"s":10.5,"v":-1.86},{"d":309,"s":11.5,"v":-1.77},{"d":309,"s":12.5,"v":-1.67},{"d":309,"s":13.5,"v":-1.59},{"d":309,"s":14.5,"v":-1.52},{"d":309,"s":15.5,"v":-1.46},{"d":309,"s":16.5,"v":-1.39},{"d":309,"s":17.5,"v":-1.33},{"d":309,"s":18.5,"v":-1.26},{"d":309,"s":19.5,"v":-1.19},{"d":309,"s":20.5,"v":-1.1},{"d":309,"s":21.5,"v":-1.0},{"d":309,"s":22.5,"v":-0.92},{"d":309,"s":23.5,"v":-0.85},{"d":309,"s":24.5,"v":-0.79},{"d":309,"s":25.5,"v":-0.74},{"d":309,"s":26.5,"v":-0.71},{"d":309,"s":27.5,"v":-0.7},{"d":309,"s":28.5,"v":-0.7},{"d":309,"s":29.5,"v":-0.71},
{"d":319,"s":0.5,"v":-1.45},{"d":319,"s":1.5,"v":-1.58},{"d":319,"s":2.5,"v":-1.65},{"d":319,"s":3.5,"v":-1.72},{"d":319,"s":4.5,"v":-1.78},{"d":319,"s":5.5,"v":-1.83},{"d":319,"s":6.5,"v":-1.88},{"d":319,"s":7.5,"v":-1.92},{"d":319,"s":8.5,"v":-1.95},{"d":319,"s":9.5,"v":-1.95},{"d":319,"s":10.5,"v":-1.92},{"d":319,"s":11.5,"v":-1.86},{"d":319,"s":12.5,"v":-1.76},{"d":319,"s":13.5,"v":-1.64},{"d":319,"s":14.5,"v":-1.56},{"d":319,"s":15.5,"v":-1.5},{"d":319,"s":16.5,"v":-1.43},{"d":319,"s":17.5,"v":-1.37},{"d":319,"s":18.5,"v":-1.31},{"d":319,"s":19.5,"v":-1.25},{"d":319,"s":20.5,"v":-1.18},{"d":319,"s":21.5,"v":-1.08},{"d":319,"s":22.5,"v":-0.98},{"d":319,"s":23.5,"v":-0.9},{"d":319,"s":24.5,"v":-0.84},{"d":319,"s":25.5,"v":-0.79},{"d":319,"s":26.5,"v":-0.76},{"d":319,"s":27.5,"v":-0.74},{"d":319,"s":28.5,"v":-0.73},{"d":319,"s":29.5,"v":-0.73},
{"d":329,"s":0.5,"v":-1.45},{"d":329,"s":1.5,"v":-1.58},{"d":329,"s":2.5,"v":-1.65},{"d":329,"s":3.5,"v":-1.72},{"d":329,"s":4.5,"v":-1.78},{"d":329,"s":5.5,"v":-1.84},{"d":329,"s":6.5,"v":-1.89},{"d":329,"s":7.5,"v":-1.94},{"d":329,"s":8.5,"v":-1.97},{"d":329,"s":9.5,"v":-1.99},{"d":329,"s":10.5,"v":-1.97},{"d":329,"s":11.5,"v":-1.92},{"d":329,"s":12.5,"v":-1.85},{"d":329,"s":13.5,"v":-1.76},{"d":329,"s":14.5,"v":-1.66},{"d":329,"s":15.5,"v":-1.57},{"d":329,"s":16.5,"v":-1.51},{"d":329,"s":17.5,"v":-1.44},{"d":329,"s":18.5,"v":-1.38},{"d":329,"s":19.5,"v":-1.32},{"d":329,"s":20.5,"v":-1.26},{"d":329,"s":21.5,"v":-1.19},{"d":329,"s":22.5,"v":-1.09},{"d":329,"s":23.5,"v":-0.99},{"d":329,"s":24.5,"v":-0.91},{"d":329,"s":25.5,"v":-0.85},{"d":329,"s":26.5,"v":-0.81},{"d":329,"s":27.5,"v":-0.78},{"d":329,"s":28.5,"v":-0.76},{"d":329,"s":29.5,"v":-0.75},
{"d":339,"s":0.5,"v":-1.45},{"d":339,"s":1.5,"v":-1.58},{"d":339,"s":2.5,"v":-1.65},{"d":339,"s":3.5,"v":-1.72},{"d":339,"s":4.5,"v":-1.79},{"d":339,"s":5.5,"v":-1.86},{"d":339,"s":6.5,"v":-1.92},{"d":339,"s":7.5,"v":-1.99},{"d":339,"s":8.5,"v":-2.1},{"d":339,"s":9.5,"v":-2.2},{"d":339,"s":10.5,"v":-2.15},{"d":339,"s":11.5,"v":-2.04},{"d":339,"s":12.5,"v":-1.93},{"d":339,"s":13.5,"v":-1.85},{"d":339,"s":14.5,"v":-1.76},{"d":339,"s":15.5,"v":-1.67},{"d":339,"s":16.5,"v":-1.59},{"d":339,"s":17.5,"v":-1.53},{"d":339,"s":18.5,"v":-1.46},{"d":339,"s":19.5,"v":-1.4},{"d":339,"s":20.5,"v":-1.33},{"d":339,"s":21.5,"v":-1.27},{"d":339,"s":22.5,"v":-1.2},{"d":339,"s":23.5,"v":-1.1},{"d":339,"s":24.5,"v":-1.0},{"d":339,"s":25.5,"v":-0.92},{"d":339,"s":26.5,"v":-0.87},{"d":339,"s":27.5,"v":-0.83},{"d":339,"s":28.5,"v":-0.8},{"d":339,"s":29.5,"v":-0.78},
{"d":349,"s":0.5,"v":-1.45},{"d":349,"s":1.5,"v":-1.58},{"d":349,"s":2.5,"v":-1.66},{"d":349,"s":3.5,"v":-1.73},{"d":349,"s":4.5,"v":-1.81},{"d":349,"s":5.5,"v":-1.89},{"d":349,"s":6.5,"v":-1.96},{"d":349,"s":7.5,"v":-2.06},{"d":349,"s":8.5,"v":-2.2},{"d":349,"s":9.5,"v":-2.33},{"d":349,"s":10.5,"v":-2.4},{"d":349,"s":11.5,"v":-2.32},{"d":349,"s":12.5,"v":-2.17},{"d":349,"s":13.5,"v":-1.97},{"d":349,"s":14.5,"v":-1.87},{"d":349,"s":15.5,"v":-1.77},{"d":349,"s":16.5,"v":-1.68},{"d":349,"s":17.5,"v":-1.59},{"d":349,"s":18.5,"v":-1.52},{"d":349,"s":19.5,"v":-1.45},{"d":349,"s":20.5,"v":-1.39},{"d":349,"s":21.5,"v":-1.32},{"d":349,"s":22.5,"v":-1.25},{"d":349,"s":23.5,"v":-1.18},{"d":349,"s":24.5,"v":-1.08},{"d":349,"s":25.5,"v":-0.98},{"d":349,"s":26.5,"v":-0.9},{"d":349,"s":27.5,"v":-0.85},{"d":349,"s":28.5,"v":-0.81},{"d":349,"s":29.5,"v":-0.78}
]},
"mark":{"type":"rect","clip":true,"binSpacing":-1},
"encoding":{
"x":{"field":"d","type":"quantitative","bin":{"binned":true,"step":10},"scale":{"domain":[-1,359],"nice":false,"zero":false},
 "axis":{"orient":"bottom","values":[0,50,100,150,200,250,300,350],"title":"direction (deg)","ticks":false,"tickSize":0,"domain":false,"grid":false,"labelFontSize":24,"titleFontSize":27,"titleFontWeight":"normal","labelPadding":13,"titlePadding":16,"labelColor":"#262626","titleColor":"#262626","labelFlush":false,"labelOverlap":false,"labelFont":"DejaVu Sans","titleFont":"DejaVu Sans"}},
"y":{"field":"s","type":"quantitative","bin":{"binned":true,"step":1},"scale":{"domain":[0.87,30.35],"nice":false,"zero":false},
 "axis":{"orient":"left","values":[5,10,15,20,25,30],"title":"speed (m/s)","ticks":false,"tickSize":0,"domain":false,"grid":false,"labelFontSize":24,"titleFontSize":27,"titleFontWeight":"normal","labelPadding":14,"titlePadding":9,"labelColor":"#262626","titleColor":"#262626","labelFlush":false,"labelOverlap":false,"labelFont":"DejaVu Sans","titleFont":"DejaVu Sans"}},
"color":{"field":"v","type":"quantitative",
 "scale":{"domain":[-5.59,-4.88,-4.17,-3.46,-2.75,-2.04,-1.85,-1.65,-1.5,-1.33,-1.15,-0.95,-0.625],
          "range":["#3e26a8","#4852f4","#2e87f7","#12b1d6","#37c897","#abc739","#cdb92d","#ebb232","#f8b437","#fec338","#fad42d","#f5e424","#f9fb15"],"interpolate":"rgb"},
 "legend":{"type":"gradient","orient":"none","legendX":828,"legendY":0,"direction":"vertical","gradientLength":678,"gradientThickness":33,"title":null,"padding":0,
   "values":[-5.5,-5,-4.5,-4,-3.5,-3,-2.5,-2,-1.5,-1],"labelExpr":"'' + datum.value","labelFontSize":24,"labelColor":"#262626","labelOffset":14,"labelOverlap":false,"labelFlush":false,
   "gradientStrokeColor":"#262626","gradientStrokeWidth":1,"labelFont":"DejaVu Sans"}}
}
},
{
"data":{"values":[
{"d":9,"s":7.5,"v":-2.05},{"d":9,"s":8.0,"v":-2.21},{"d":9,"s":8.5,"v":-2.36},{"d":9,"s":9.0,"v":-2.5},{"d":9,"s":9.5,"v":-2.66},{"d":9,"s":10.0,"v":-2.78},{"d":9,"s":10.5,"v":-2.84},{"d":9,"s":11.0,"v":-2.84},{"d":9,"s":11.5,"v":-2.77},{"d":9,"s":12.0,"v":-2.64},{"d":9,"s":12.5,"v":-2.48},
{"d":14,"s":7.5,"v":-2.14},{"d":14,"s":8.0,"v":-2.3},{"d":14,"s":8.5,"v":-2.46},{"d":14,"s":9.0,"v":-2.64},{"d":14,"s":9.5,"v":-2.81},{"d":14,"s":10.0,"v":-2.93},{"d":14,"s":10.5,"v":-2.98},{"d":14,"s":11.0,"v":-2.96},{"d":14,"s":11.5,"v":-2.85},{"d":14,"s":12.0,"v":-2.7},{"d":14,"s":12.5,"v":-2.51},
{"d":19,"s":7.5,"v":-2.23},{"d":19,"s":8.0,"v":-2.4},{"d":19,"s":8.5,"v":-2.59},{"d":19,"s":9.0,"v":-2.79},{"d":19,"s":9.5,"v":-2.96},{"d":19,"s":10.0,"v":-3.14},{"d":19,"s":10.5,"v":-3.2},{"d":19,"s":11.0,"v":-3.09},{"d":19,"s":11.5,"v":-2.92},{"d":19,"s":12.0,"v":-2.74},{"d":19,"s":12.5,"v":-2.52},
{"d":24,"s":7.5,"v":-2.32},{"d":24,"s":8.0,"v":-2.49},{"d":24,"s":8.5,"v":-2.71},{"d":24,"s":9.0,"v":-2.93},{"d":24,"s":9.5,"v":-3.19},{"d":24,"s":10.0,"v":-3.4},{"d":24,"s":10.5,"v":-3.41},{"d":24,"s":11.0,"v":-3.23},{"d":24,"s":11.5,"v":-2.96},{"d":24,"s":12.0,"v":-2.75},{"d":24,"s":12.5,"v":-2.52},
{"d":29,"s":7.5,"v":-2.4},{"d":29,"s":8.0,"v":-2.6},{"d":29,"s":8.5,"v":-2.84},{"d":29,"s":9.0,"v":-3.1},{"d":29,"s":9.5,"v":-3.45},{"d":29,"s":10.0,"v":-3.7},{"d":29,"s":10.5,"v":-3.61},{"d":29,"s":11.0,"v":-3.31},{"d":29,"s":11.5,"v":-2.97},{"d":29,"s":12.0,"v":-2.74},{"d":29,"s":12.5,"v":-2.5},
{"d":34,"s":7.5,"v":-2.47},{"d":34,"s":8.0,"v":-2.7},{"d":34,"s":8.5,"v":-2.95},{"d":34,"s":9.0,"v":-3.32},{"d":34,"s":9.5,"v":-3.76},{"d":34,"s":10.0,"v":-4.04},{"d":34,"s":10.5,"v":-3.76},{"d":34,"s":11.0,"v":-3.32},{"d":34,"s":11.5,"v":-2.95},{"d":34,"s":12.0,"v":-2.7},{"d":34,"s":12.5,"v":-2.47},
{"d":39,"s":7.5,"v":-2.55},{"d":39,"s":8.0,"v":-2.8},{"d":39,"s":8.5,"v":-3.08},{"d":39,"s":9.0,"v":-3.51},{"d":39,"s":9.5,"v":-4.15},{"d":39,"s":10.0,"v":-4.71},{"d":39,"s":10.5,"v":-3.73},{"d":39,"s":11.0,"v":-3.25},{"d":39,"s":11.5,"v":-2.9},{"d":39,"s":12.0,"v":-2.65},{"d":39,"s":12.5,"v":-2.43},
{"d":44,"s":7.5,"v":-2.62},{"d":44,"s":8.0,"v":-2.87},{"d":44,"s":8.5,"v":-3.2},{"d":44,"s":9.0,"v":-3.67},{"d":44,"s":9.5,"v":-4.5},{"d":44,"s":10.0,"v":-4.3},{"d":44,"s":10.5,"v":-3.58},{"d":44,"s":11.0,"v":-3.13},{"d":44,"s":11.5,"v":-2.83},{"d":44,"s":12.0,"v":-2.58},{"d":44,"s":12.5,"v":-2.37},
{"d":49,"s":7.5,"v":-2.65},{"d":49,"s":8.0,"v":-2.9},{"d":49,"s":8.5,"v":-3.25},{"d":49,"s":9.0,"v":-3.7},{"d":49,"s":9.5,"v":-4.03},{"d":49,"s":10.0,"v":-3.8},{"d":49,"s":10.5,"v":-3.37},{"d":49,"s":11.0,"v":-2.98},{"d":49,"s":11.5,"v":-2.74},{"d":49,"s":12.0,"v":-2.49},{"d":49,"s":12.5,"v":-2.31},
{"d":54,"s":7.5,"v":-2.55},{"d":54,"s":8.0,"v":-2.78},{"d":54,"s":8.5,"v":-3.15},{"d":54,"s":9.0,"v":-3.55},{"d":54,"s":9.5,"v":-3.71},{"d":54,"s":10.0,"v":-3.48},{"d":54,"s":10.5,"v":-3.16},{"d":54,"s":11.0,"v":-2.86},{"d":54,"s":11.5,"v":-2.63},{"d":54,"s":12.0,"v":-2.42},{"d":54,"s":12.5,"v":-2.24},
{"d":59,"s":7.5,"v":-2.5},{"d":59,"s":8.0,"v":-2.72},{"d":59,"s":8.5,"v":-3.0},{"d":59,"s":9.0,"v":-3.35},{"d":59,"s":9.5,"v":-3.41},{"d":59,"s":10.0,"v":-3.22},{"d":59,"s":10.5,"v":-2.95},{"d":59,"s":11.0,"v":-2.74},{"d":59,"s":11.5,"v":-2.51},{"d":59,"s":12.0,"v":-2.34},{"d":59,"s":12.5,"v":-2.16},
{"d":64,"s":7.5,"v":-2.45},{"d":64,"s":8.0,"v":-2.65},{"d":64,"s":8.5,"v":-2.85},{"d":64,"s":9.0,"v":-3.05},{"d":64,"s":9.5,"v":-3.02},{"d":64,"s":10.0,"v":-2.9},{"d":64,"s":10.5,"v":-2.74},{"d":64,"s":11.0,"v":-2.56},{"d":64,"s":11.5,"v":-2.4},{"d":64,"s":12.0,"v":-2.24},{"d":64,"s":12.5,"v":-2.08},
{"d":69,"s":7.5,"v":-2.4},{"d":69,"s":8.0,"v":-2.6},{"d":69,"s":8.5,"v":-2.75},{"d":69,"s":9.0,"v":-2.82},{"d":69,"s":9.5,"v":-2.8},{"d":69,"s":10.0,"v":-2.72},{"d":69,"s":10.5,"v":-2.58},{"d":69,"s":11.0,"v":-2.42},{"d":69,"s":11.5,"v":-2.28},{"d":69,"s":12.0,"v":-2.13},{"d":69,"s":12.5,"v":-1.98},
{"d":74,"s":7.5,"v":-2.3},{"d":74,"s":8.0,"v":-2.48},{"d":74,"s":8.5,"v":-2.57},{"d":74,"s":9.0,"v":-2.6},{"d":74,"s":9.5,"v":-2.57},{"d":74,"s":10.0,"v":-2.5},{"d":74,"s":10.5,"v":-2.38},{"d":74,"s":11.0,"v":-2.27},{"d":74,"s":11.5,"v":-2.15},{"d":74,"s":12.0,"v":-2.03},{"d":74,"s":12.5,"v":-1.93},
{"d":189,"s":8.0,"v":-1.97},{"d":189,"s":8.5,"v":-2.09},{"d":189,"s":9.0,"v":-2.23},{"d":189,"s":9.5,"v":-2.35},{"d":189,"s":10.0,"v":-2.46},{"d":189,"s":10.5,"v":-2.57},{"d":189,"s":11.0,"v":-2.65},{"d":189,"s":11.5,"v":-2.65},{"d":189,"s":12.0,"v":-2.57},{"d":189,"s":12.5,"v":-2.46},{"d":189,"s":13.0,"v":-2.36},
{"d":194,"s":8.0,"v":-2.03},{"d":194,"s":8.5,"v":-2.18},{"d":194,"s":9.0,"v":-2.32},{"d":194,"s":9.5,"v":-2.45},{"d":194,"s":10.0,"v":-2.61},{"d":194,"s":10.5,"v":-2.75},{"d":194,"s":11.0,"v":-2.82},{"d":194,"s":11.5,"v":-2.8},{"d":194,"s":12.0,"v":-2.69},{"d":194,"s":12.5,"v":-2.51},{"d":194,"s":13.0,"v":-2.39},
{"d":199,"s":8.0,"v":-2.11},{"d":199,"s":8.5,"v":-2.26},{"d":199,"s":9.0,"v":-2.41},{"d":199,"s":9.5,"v":-2.58},{"d":199,"s":10.0,"v":-2.79},{"d":199,"s":10.5,"v":-2.93},{"d":199,"s":11.0,"v":-2.99},{"d":199,"s":11.5,"v":-2.93},{"d":199,"s":12.0,"v":-2.78},{"d":199,"s":12.5,"v":-2.57},{"d":199,"s":13.0,"v":-2.4},
{"d":204,"s":8.0,"v":-2.19},{"d":204,"s":8.5,"v":-2.34},{"d":204,"s":9.0,"v":-2.49},{"d":204,"s":9.5,"v":-2.74},{"d":204,"s":10.0,"v":-2.96},{"d":204,"s":10.5,"v":-3.2},{"d":204,"s":11.0,"v":-3.25},{"d":204,"s":11.5,"v":-3.08},{"d":204,"s":12.0,"v":-2.85},{"d":204,"s":12.5,"v":-2.6},{"d":204,"s":13.0,"v":-2.41},
{"d":209,"s":8.0,"v":-2.26},{"d":209,"s":8.5,"v":-2.42},{"d":209,"s":9.0,"v":-2.64},{"d":209,"s":9.5,"v":-2.9},{"d":209,"s":10.0,"v":-3.25},{"d":209,"s":10.5,"v":-3.51},{"d":209,"s":11.0,"v":-3.49},{"d":209,"s":11.5,"v":-3.2},{"d":209,"s":12.0,"v":-2.87},{"d":209,"s":12.5,"v":-2.6},{"d":209,"s":13.0,"v":-2.4},
{"d":214,"s":8.0,"v":-2.32},{"d":214,"s":8.5,"v":-2.48},{"d":214,"s":9.0,"v":-2.77},{"d":214,"s":9.5,"v":-3.09},{"d":214,"s":10.0,"v":-3.54},{"d":214,"s":10.5,"v":-3.86},{"d":214,"s":11.0,"v":-3.69},{"d":214,"s":11.5,"v":-3.26},{"d":214,"s":12.0,"v":-2.87},{"d":214,"s":12.5,"v":-2.58},{"d":214,"s":13.0,"v":-2.38},
{"d":219,"s":8.0,"v":-2.38},{"d":219,"s":8.5,"v":-2.59},{"d":219,"s":9.0,"v":-2.88},{"d":219,"s":9.5,"v":-3.32},{"d":219,"s":10.0,"v":-3.86},{"d":219,"s":10.5,"v":-4.39},{"d":219,"s":11.0,"v":-3.75},{"d":219,"s":11.5,"v":-3.22},{"d":219,"s":12.0,"v":-2.82},{"d":219,"s":12.5,"v":-2.52},{"d":219,"s":13.0,"v":-2.35},
{"d":224,"s":8.0,"v":-2.43},{"d":224,"s":8.5,"v":-2.71},{"d":224,"s":9.0,"v":-2.98},{"d":224,"s":9.5,"v":-3.48},{"d":224,"s":10.0,"v":-4.16},{"d":224,"s":10.5,"v":-4.46},{"d":224,"s":11.0,"v":-3.64},{"d":224,"s":11.5,"v":-3.1},{"d":224,"s":12.0,"v":-2.76},{"d":224,"s":12.5,"v":-2.47},{"d":224,"s":13.0,"v":-2.31},
{"d":229,"s":8.0,"v":-2.47},{"d":229,"s":8.5,"v":-2.74},{"d":229,"s":9.0,"v":-3.08},{"d":229,"s":9.5,"v":-3.56},{"d":229,"s":10.0,"v":-4.04},{"d":229,"s":10.5,"v":-3.91},{"d":229,"s":11.0,"v":-3.42},{"d":229,"s":11.5,"v":-2.95},{"d":229,"s":12.0,"v":-2.65},{"d":229,"s":12.5,"v":-2.42},{"d":229,"s":13.0,"v":-2.25},
{"d":234,"s":8.0,"v":-2.49},{"d":234,"s":8.5,"v":-2.77},{"d":234,"s":9.0,"v":-3.08},{"d":234,"s":9.5,"v":-3.49},{"d":234,"s":10.0,"v":-3.74},{"d":234,"s":10.5,"v":-3.58},{"d":234,"s":11.0,"v":-3.17},{"d":234,"s":11.5,"v":-2.82},{"d":234,"s":12.0,"v":-2.54},{"d":234,"s":12.5,"v":-2.36},{"d":234,"s":13.0,"v":-2.2},
{"d":239,"s":8.0,"v":-2.5},{"d":239,"s":8.5,"v":-2.77},{"d":239,"s":9.0,"v":-3.02},{"d":239,"s":9.5,"v":-3.33},{"d":239,"s":10.0,"v":-3.43},{"d":239,"s":10.5,"v":-3.24},{"d":239,"s":11.0,"v":-2.93},{"d":239,"s":11.5,"v":-2.68},{"d":239,"s":12.0,"v":-2.45},{"d":239,"s":12.5,"v":-2.29},{"d":239,"s":13.0,"v":-2.13},
{"d":244,"s":8.0,"v":-2.5},{"d":244,"s":8.5,"v":-2.74},{"d":244,"s":9.0,"v":-2.94},{"d":244,"s":9.5,"v":-3.11},{"d":244,"s":10.0,"v":-3.12},{"d":244,"s":10.5,"v":-2.96},{"d":244,"s":11.0,"v":-2.76},{"d":244,"s":11.5,"v":-2.52},{"d":244,"s":12.0,"v":-2.37},{"d":244,"s":12.5,"v":-2.22},{"d":244,"s":13.0,"v":-2.06},
{"d":249,"s":8.0,"v":-2.48},{"d":249,"s":8.5,"v":-2.68},{"d":249,"s":9.0,"v":-2.84},{"d":249,"s":9.5,"v":-2.92},{"d":249,"s":10.0,"v":-2.9},{"d":249,"s":10.5,"v":-2.77},{"d":249,"s":11.0,"v":-2.59},{"d":249,"s":11.5,"v":-2.42},{"d":249,"s":12.0,"v":-2.28},{"d":249,"s":12.5,"v":-2.14},{"d":249,"s":13.0,"v":-1.99},
{"d":254,"s":8.0,"v":-2.45},{"d":254,"s":8.5,"v":-2.59},{"d":254,"s":9.0,"v":-2.71},{"d":254,"s":9.5,"v":-2.76},{"d":254,"s":10.0,"v":-2.71},{"d":254,"s":10.5,"v":-2.59},{"d":254,"s":11.0,"v":-2.45},{"d":254,"s":11.5,"v":-2.33},{"d":254,"s":12.0,"v":-2.2},{"d":254,"s":12.5,"v":-2.06},{"d":254,"s":13.0,"v":-1.95}
]},
"mark":{"type":"rect","clip":true,"binSpacing":-1},
"encoding":{
"x":{"field":"d","type":"quantitative","bin":{"binned":true,"step":5},"axis":null},
"y":{"field":"s","type":"quantitative","bin":{"binned":true,"step":0.5},"axis":null},
"color":{"field":"v","type":"quantitative"}
}
},
{
"data":{"values":[
{"c":"c1","o":0,"d":-1,"s":24.06},{"c":"c1","o":1,"d":8,"s":23.9},{"c":"c1","o":2,"d":17,"s":23.19},{"c":"c1","o":3,"d":26,"s":22.03},{"c":"c1","o":4,"d":35,"s":20.87},{"c":"c1","o":5,"d":44,"s":19.86},{"c":"c1","o":6,"d":53,"s":19.13},{"c":"c1","o":7,"d":62,"s":18.55},{"c":"c1","o":8,"d":74,"s":17.97},{"c":"c1","o":9,"d":89,"s":17.39},{"c":"c1","o":10,"d":104,"s":16.88},{"c":"c1","o":11,"d":119.5,"s":16.67},{"c":"c1","o":12,"d":128.5,"s":16.81},{"c":"c1","o":13,"d":137.5,"s":17.25},{"c":"c1","o":14,"d":146.6,"s":18.12},{"c":"c1","o":15,"d":155.6,"s":19.27},{"c":"c1","o":16,"d":164.6,"s":20.87},{"c":"c1","o":17,"d":173.7,"s":22.75},{"c":"c1","o":18,"d":179.7,"s":23.45},{"c":"c1","o":19,"d":185.7,"s":23.99},{"c":"c1","o":20,"d":193.3,"s":24.28},{"c":"c1","o":21,"d":200.8,"s":24.13},{"c":"c1","o":22,"d":212.8,"s":23.48},{"c":"c1","o":23,"d":223.3,"s":22.75},{"c":"c1","o":24,"d":233.9,"s":22.03},{"c":"c1","o":25,"d":245.9,"s":21.3},{"c":"c1","o":26,"d":261,"s":20.58},{"c":"c1","o":27,"d":276,"s":19.86},{"c":"c1","o":28,"d":288,"s":19.42},{"c":"c1","o":29,"d":300,"s":19.35},{"c":"c1","o":30,"d":309,"s":19.57},{"c":"c1","o":31,"d":318.2,"s":20.14},{"c":"c1","o":32,"d":327.2,"s":21.01},{"c":"c1","o":33,"d":336.3,"s":22.03},{"c":"c1","o":34,"d":345.3,"s":23.04},{"c":"c1","o":35,"d":354.3,"s":23.77},{"c":"c1","o":36,"d":359,"s":24.06},
{"c":"c2","o":0,"d":-1,"s":18.2},{"c":"c2","o":1,"d":10,"s":18.04},{"c":"c2","o":2,"d":27,"s":16.67},{"c":"c2","o":3,"d":42,"s":15.65},{"c":"c2","o":4,"d":57,"s":14.9},{"c":"c2","o":5,"d":75,"s":14.2},{"c":"c2","o":6,"d":93,"s":13.6},{"c":"c2","o":7,"d":111,"s":12.9},{"c":"c2","o":8,"d":127.7,"s":12.46},{"c":"c2","o":9,"d":141,"s":12.75},{"c":"c2","o":10,"d":156,"s":13.9},{"c":"c2","o":11,"d":165,"s":14.9},{"c":"c2","o":12,"d":170.6,"s":15.8},{"c":"c2","o":13,"d":175,"s":16.7},{"c":"c2","o":14,"d":179.7,"s":17.39},{"c":"c2","o":15,"d":188.7,"s":18.33},{"c":"c2","o":16,"d":197.7,"s":18.55},{"c":"c2","o":17,"d":208,"s":18.26},{"c":"c2","o":18,"d":223,"s":17.5},{"c":"c2","o":19,"d":238,"s":16.67},{"c":"c2","o":20,"d":253,"s":15.8},{"c":"c2","o":21,"d":268.5,"s":15.07},{"c":"c2","o":22,"d":283.6,"s":14.35},{"c":"c2","o":23,"d":298.6,"s":13.84},{"c":"c2","o":24,"d":313.7,"s":13.77},{"c":"c2","o":25,"d":325.7,"s":14.35},{"c":"c2","o":26,"d":336.3,"s":15.65},{"c":"c2","o":27,"d":346.8,"s":17.1},{"c":"c2","o":28,"d":359,"s":18.15},
{"c":"c0","o":0,"d":-1,"s":2.17},{"c":"c0","o":1,"d":30,"s":2.05},{"c":"c0","o":2,"d":62,"s":1.88},{"c":"c0","o":3,"d":100,"s":1.96},{"c":"c0","o":4,"d":150,"s":2.25},{"c":"c0","o":5,"d":200,"s":2.1},{"c":"c0","o":6,"d":250,"s":1.96},{"c":"c0","o":7,"d":300,"s":2.17},{"c":"c0","o":8,"d":359,"s":2.22},
{"c":"c3","o":0,"d":-1,"s":14.86},{"c":"c3","o":1,"d":10.3,"s":14.93},{"c":"c3","o":2,"d":19.3,"s":14.64},{"c":"c3","o":3,"d":34.4,"s":13.91},{"c":"c3","o":4,"d":49.5,"s":13.19},{"c":"c3","o":5,"d":64.5,"s":12.61},{"c":"c3","o":6,"d":79.5,"s":11.88},{"c":"c3","o":7,"d":93.1,"s":11.01},{"c":"c3","o":8,"d":105.1,"s":10.0},{"c":"c3","o":9,"d":112,"s":9.3},{"c":"c3","o":10,"d":116,"s":8.7},{"c":"c3","o":11,"d":117.3,"s":8.2},{"c":"c3","o":12,"d":115.5,"s":7.7},{"c":"c3","o":13,"d":110,"s":7.2},{"c":"c3","o":14,"d":102.1,"s":6.67},{"c":"c3","o":15,"d":87.1,"s":6.09},{"c":"c3","o":16,"d":69,"s":5.73},{"c":"c3","o":17,"d":54,"s":5.73},{"c":"c3","o":18,"d":34.4,"s":6.09},{"c":"c3","o":19,"d":14.8,"s":6.67},{"c":"c3","o":20,"d":-1,"s":7.2},
{"c":"c3w","o":0,"d":359,"s":14.49},{"c":"c3w","o":1,"d":354.3,"s":13.62},{"c":"c3w","o":2,"d":348.3,"s":12.32},{"c":"c3w","o":3,"d":342.3,"s":10.87},{"c":"c3w","o":4,"d":339.3,"s":9.71},{"c":"c3w","o":5,"d":340,"s":8.84},{"c":"c3w","o":6,"d":345.3,"s":8.12},{"c":"c3w","o":7,"d":354.3,"s":7.54},{"c":"c3w","o":8,"d":359,"s":7.32},
{"c":"c3b","o":0,"d":197.7,"s":15.36},{"c":"c3b","o":1,"d":208.3,"s":15.07},{"c":"c3b","o":2,"d":223.3,"s":14.35},{"c":"c3b","o":3,"d":238.4,"s":13.62},{"c":"c3b","o":4,"d":253.4,"s":12.75},{"c":"c3b","o":5,"d":268.5,"s":11.74},{"c":"c3b","o":6,"d":282,"s":10.72},{"c":"c3b","o":7,"d":292.6,"s":9.86},{"c":"c3b","o":8,"d":297.9,"s":8.99},{"c":"c3b","o":9,"d":297,"s":8.12},{"c":"c3b","o":10,"d":289.6,"s":7.39},{"c":"c3b","o":11,"d":276,"s":6.67},{"c":"c3b","o":12,"d":258,"s":6.16},{"c":"c3b","o":13,"d":238.4,"s":6.01},{"c":"c3b","o":14,"d":220.3,"s":6.23},{"c":"c3b","o":15,"d":200.8,"s":6.81},{"c":"c3b","o":16,"d":182.7,"s":7.54},{"c":"c3b","o":17,"d":172,"s":8.15},{"c":"c3b","o":18,"d":167.5,"s":8.9},{"c":"c3b","o":19,"d":165.8,"s":9.9},{"c":"c3b","o":20,"d":166.8,"s":11.3},{"c":"c3b","o":21,"d":169.8,"s":12.6},{"c":"c3b","o":22,"d":175,"s":13.6},{"c":"c3b","o":23,"d":181,"s":14.3},{"c":"c3b","o":24,"d":188.7,"s":15.07},{"c":"c3b","o":25,"d":197.7,"s":15.36},
{"c":"c4","o":0,"d":3.5,"s":12.17},{"c":"c4","o":1,"d":11.8,"s":12.83},{"c":"c4","o":2,"d":23.8,"s":12.97},{"c":"c4","o":3,"d":35.9,"s":12.61},{"c":"c4","o":4,"d":47.9,"s":12.17},{"c":"c4","o":5,"d":61.5,"s":11.6},{"c":"c4","o":6,"d":72,"s":10.87},{"c":"c4","o":7,"d":79.5,"s":10.0},{"c":"c4","o":8,"d":82.6,"s":9.28},{"c":"c4","o":9,"d":81,"s":8.55},{"c":"c4","o":10,"d":72,"s":7.97},{"c":"c4","o":11,"d":57,"s":7.68},{"c":"c4","o":12,"d":41.9,"s":7.83},{"c":"c4","o":13,"d":26.9,"s":8.41},{"c":"c4","o":14,"d":14.8,"s":8.99},{"c":"c4","o":15,"d":5.8,"s":9.86},{"c":"c4","o":16,"d":2.8,"s":10.72},{"c":"c4","o":17,"d":2.6,"s":11.5},{"c":"c4","o":18,"d":3.5,"s":12.17},
{"c":"c5","o":0,"d":20.1,"s":11.6},{"c":"c5","o":1,"d":29.1,"s":11.74},{"c":"c5","o":2,"d":42.7,"s":11.45},{"c":"c5","o":3,"d":54.7,"s":11.01},{"c":"c5","o":4,"d":63.7,"s":10.43},{"c":"c5","o":5,"d":68.2,"s":9.86},{"c":"c5","o":6,"d":68.2,"s":9.28},{"c":"c5","o":7,"d":62.2,"s":8.7},{"c":"c5","o":8,"d":51.7,"s":8.55},{"c":"c5","o":9,"d":39.7,"s":8.7},{"c":"c5","o":10,"d":26.1,"s":9.28},{"c":"c5","o":11,"d":18.6,"s":10.0},{"c":"c5","o":12,"d":17.1,"s":10.87},{"c":"c5","o":13,"d":20.1,"s":11.6},
{"c":"c6","o":0,"d":27,"s":10.75},{"c":"c6","o":1,"d":33,"s":10.98},{"c":"c6","o":2,"d":42,"s":10.9},{"c":"c6","o":3,"d":52,"s":10.55},{"c":"c6","o":4,"d":59,"s":10.0},{"c":"c6","o":5,"d":61,"s":9.55},{"c":"c6","o":6,"d":56,"s":9.2},{"c":"c6","o":7,"d":47,"s":9.13},{"c":"c6","o":8,"d":38,"s":9.35},{"c":"c6","o":9,"d":31,"s":9.85},{"c":"c6","o":10,"d":27,"s":10.4},{"c":"c6","o":11,"d":27,"s":10.75},
{"c":"c7","o":0,"d":36.6,"s":10.4},{"c":"c7","o":1,"d":41,"s":10.5},{"c":"c7","o":2,"d":47,"s":10.35},{"c":"c7","o":3,"d":51,"s":10.05},{"c":"c7","o":4,"d":52.4,"s":9.75},{"c":"c7","o":5,"d":50,"s":9.57},{"c":"c7","o":6,"d":45,"s":9.6},{"c":"c7","o":7,"d":40,"s":9.8},{"c":"c7","o":8,"d":37,"s":10.1},{"c":"c7","o":9,"d":36.6,"s":10.4},
{"c":"c8","o":0,"d":40.4,"s":10.2},{"c":"c8","o":1,"d":44,"s":10.3},{"c":"c8","o":2,"d":48,"s":10.15},{"c":"c8","o":3,"d":49.4,"s":9.9},{"c":"c8","o":4,"d":47,"s":9.75},{"c":"c8","o":5,"d":43,"s":9.8},{"c":"c8","o":6,"d":40.8,"s":9.98},{"c":"c8","o":7,"d":40.4,"s":10.2},
{"c":"c9","o":0,"d":43,"s":10.1},{"c":"c9","o":1,"d":45,"s":10.17},{"c":"c9","o":2,"d":47.3,"s":10.05},{"c":"c9","o":3,"d":47.5,"s":9.92},{"c":"c9","o":4,"d":45.5,"s":9.88},{"c":"c9","o":5,"d":43.5,"s":9.93},{"c":"c9","o":6,"d":43,"s":10.1},
{"c":"c4b","o":0,"d":189,"s":11.0},{"c":"c4b","o":1,"d":188.7,"s":12.4},{"c":"c4b","o":2,"d":191,"s":13.2},{"c":"c4b","o":3,"d":197.7,"s":13.48},{"c":"c4b","o":4,"d":209.8,"s":13.19},{"c":"c4b","o":5,"d":227.9,"s":12.61},{"c":"c4b","o":6,"d":245.9,"s":11.88},{"c":"c4b","o":7,"d":258,"s":11.01},{"c":"c4b","o":8,"d":262.5,"s":10.14},{"c":"c4b","o":9,"d":259.5,"s":9.28},{"c":"c4b","o":10,"d":249,"s":8.55},{"c":"c4b","o":11,"d":233.9,"s":8.26},{"c":"c4b","o":12,"d":218.8,"s":8.41},{"c":"c4b","o":13,"d":203.8,"s":8.99},{"c":"c4b","o":14,"d":193.3,"s":9.86},{"c":"c4b","o":15,"d":189,"s":11.0},
{"c":"c5b","o":0,"d":200.8,"s":11.6},{"c":"c5b","o":1,"d":202,"s":12.17},{"c":"c5b","o":2,"d":214.3,"s":12.1},{"c":"c5b","o":3,"d":227.9,"s":11.67},{"c":"c5b","o":4,"d":239.9,"s":11.16},{"c":"c5b","o":5,"d":247.4,"s":10.43},{"c":"c5b","o":6,"d":247.4,"s":9.86},{"c":"c5b","o":7,"d":239.9,"s":9.28},{"c":"c5b","o":8,"d":227.9,"s":9.13},{"c":"c5b","o":9,"d":215.9,"s":9.42},{"c":"c5b","o":10,"d":205.3,"s":10.0},{"c":"c5b","o":11,"d":200.8,"s":10.72},{"c":"c5b","o":12,"d":200.8,"s":11.6},
{"c":"c6b","o":0,"d":211.3,"s":11.3},{"c":"c6b","o":1,"d":223.3,"s":11.45},{"c":"c6b","o":2,"d":235.4,"s":11.01},{"c":"c6b","o":3,"d":239.2,"s":10.43},{"c":"c6b","o":4,"d":236.9,"s":9.86},{"c":"c6b","o":5,"d":227.9,"s":9.64},{"c":"c6b","o":6,"d":217.3,"s":9.86},{"c":"c6b","o":7,"d":211.3,"s":10.43},{"c":"c6b","o":8,"d":211.3,"s":11.3},
{"c":"c7b","o":0,"d":218.8,"s":10.87},{"c":"c7b","o":1,"d":227.9,"s":10.94},{"c":"c7b","o":2,"d":233.1,"s":10.58},{"c":"c7b","o":3,"d":230.9,"s":10.22},{"c":"c7b","o":4,"d":223.3,"s":10.14},{"c":"c7b","o":5,"d":218.8,"s":10.43},{"c":"c7b","o":6,"d":218.8,"s":10.87},
{"c":"c8b","o":0,"d":222.5,"s":10.7},{"c":"c8b","o":1,"d":226,"s":10.75},{"c":"c8b","o":2,"d":228.5,"s":10.55},{"c":"c8b","o":3,"d":227,"s":10.4},{"c":"c8b","o":4,"d":223.5,"s":10.4},{"c":"c8b","o":5,"d":222,"s":10.55},{"c":"c8b","o":6,"d":222.5,"s":10.7}
]},
"mark":{"type":"line","color":"#ffffff","strokeWidth":1.3,"opacity":0.9,"clip":true,"interpolate":"cardinal"},
"encoding":{
"x":{"field":"d","type":"quantitative","axis":{"orient":"bottom","values":[0,50,100,150,200,250,300,350],"labels":false,"domain":false,"grid":false,"ticks":true,"tickSize":8,"offset":-8,"title":null,"tickColor":"#262626","tickWidth":1}},
"y":{"field":"s","type":"quantitative","axis":{"orient":"left","values":[5,10,15,20,25,30],"labels":false,"domain":false,"grid":false,"ticks":true,"tickSize":8,"offset":-8,"title":null,"tickColor":"#262626","tickWidth":1}},
"detail":{"field":"c"},
"order":{"field":"o","type":"quantitative"}
}
},
{
"data":{"values":[
{"d":-1,"s":11.2},{"d":0,"s":11.23},{"d":4.3,"s":11.33},{"d":11.8,"s":11.13},{"d":19.3,"s":10.87},{"d":26.9,"s":10.58},{"d":35.9,"s":10.22},{"d":44.9,"s":10.0},{"d":57,"s":9.71},{"d":67.5,"s":9.49},{"d":79.5,"s":9.2},{"d":94.6,"s":8.77},{"d":109.7,"s":8.41},{"d":121.7,"s":8.19},{"d":139.8,"s":8.19},{"d":151.8,"s":8.41},{"d":159.4,"s":8.77},{"d":167,"s":9.5},{"d":171.5,"s":10.0},{"d":177,"s":10.5},{"d":182.7,"s":11.09},{"d":190.2,"s":11.3},{"d":197.7,"s":11.3},{"d":205.3,"s":11.16},{"d":215.8,"s":10.87},{"d":226.3,"s":10.58},{"d":236.9,"s":10.29},{"d":248.9,"s":10.0},{"d":261,"s":9.71},{"d":276,"s":9.28},{"d":291.1,"s":8.84},{"d":301.6,"s":8.62},{"d":313.7,"s":8.55},{"d":324.2,"s":8.7},{"d":333.2,"s":9.13},{"d":340.8,"s":9.71},{"d":351.3,"s":10.58},{"d":359,"s":11.12}
]},
"mark":{"type":"line","color":"#000000","strokeWidth":1.4,"clip":true},
"encoding":{
"x":{"field":"d","type":"quantitative","axis":{"orient":"top","values":[0,50,100,150,200,250,300,350],"labels":false,"domain":false,"grid":false,"ticks":true,"tickSize":8,"offset":-8,"title":null,"tickColor":"#262626","tickWidth":1}},
"y":{"field":"s","type":"quantitative","axis":{"orient":"right","values":[5,10,15,20,25,30],"labels":false,"domain":false,"grid":false,"ticks":true,"tickSize":8,"offset":-8,"title":null,"tickColor":"#262626","tickWidth":1}}
}
},
{
"data":{"values":[{"d":43.9,"s":10.04}]},
"mark":{"type":"point","shape":"M-1,0A1,1.05,0,1,1,1,0A1,1.05,0,1,1,-1,0Z","size":16384,"strokeWidth":5,"filled":false,"opacity":1,"stroke":"#ff0000","clip":true},
"encoding":{"x":{"field":"d","type":"quantitative","axis":null},"y":{"field":"s","type":"quantitative","axis":null}}
},
{
"data":{"values":[{"d":224.4,"s":10.74}]},
"mark":{"type":"point","shape":"M-1,0A1,1.05,0,1,1,1,0A1,1.05,0,1,1,-1,0Z","size":16384,"strokeWidth":5,"filled":false,"opacity":1,"stroke":"#000000","clip":true},
"encoding":{"x":{"field":"d","type":"quantitative","axis":null},"y":{"field":"s","type":"quantitative","axis":null}}
}
]
}
